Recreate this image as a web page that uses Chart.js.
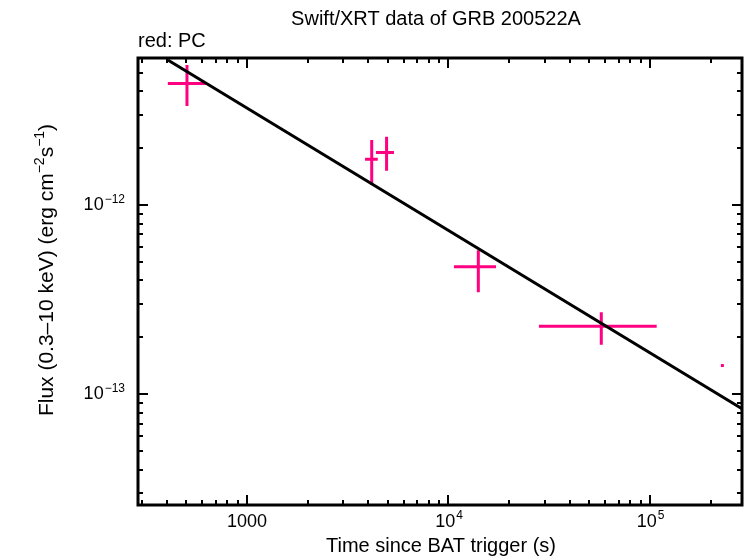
<!DOCTYPE html>
<html>
<head>
<meta charset="utf-8">
<script src="https://cdn.jsdelivr.net/npm/chart.js@4"></script>
<style>
html, body { margin: 0; padding: 0; background: #fff; }
</style>
</head>
<body>
<canvas id="myChart" width="746" height="558"></canvas>
<script>
// PC mode points: time since trigger (s) and flux (erg cm-2 s-1)
const times = [504, 4160, 4930, 14060, 57300, 228500]
const timeLow = [405, 3855, 4365, 10640, 28100, 228500]
const timeHigh = [632, 4458, 5364, 17220, 107900, 228500]
const flux = [4.40e-12, 1.75e-12, 1.90e-12, 4.72e-13, 2.29e-13, 1.42e-13]
const fluxLow = [3.34e-12, 1.28e-12, 1.52e-12, 3.47e-13, 1.83e-13, 1.42e-13]
const fluxHigh = [5.51e-12, 2.21e-12, 2.30e-12, 5.78e-13, 2.72e-13, 1.42e-13]

// power law fit, drawn between its two ends
const fitTimes = [405, 286000]
const fitFlux = [5.85e-12, 8.4e-14]

// labelled ticks (powers of ten) - 1000 is written out in full
const xTickExp = [3, 4, 5]
const yTickExp = [-13, -12]

const pink = "#ff0080"
const font = "'Liberation Sans', Arial, sans-serif"

const points = times.map((t, i) => ({ x: t, y: flux[i] }))
const fitPoints = fitTimes.map((t, i) => ({ x: t, y: fitFlux[i] }))

// draws "10" with a raised exponent, anchored by align
function drawPow(ctx, exp, x, y, align) {
	const base = "10"
	const sup = String(exp).replace("-", "\u2212")
	ctx.font = "18px " + font
	const bw = ctx.measureText(base).width
	ctx.font = "12px " + font
	const sw = ctx.measureText(sup).width
	let left = x
	if (align === "center") left = x - (bw + sw) / 2
	if (align === "right") left = x - (bw + sw)
	ctx.textAlign = "left"
	ctx.textBaseline = "middle"
	ctx.font = "18px " + font
	ctx.fillText(base, left, y)
	ctx.font = "12px " + font
	ctx.fillText(sup, left + bw + 1, y - 6)
}

function minorValues(min, max) {
	const out = []
	for (let e = Math.floor(Math.log10(min)); e <= Math.ceil(Math.log10(max)); e++) {
		for (let m = 1; m < 10; m++) {
			const v = m * Math.pow(10, e)
			if (v >= min && v <= max) out.push({ v: v, major: m === 1 })
		}
	}
	return out
}

const errorBars = {
	id: "errorBars",
	beforeDatasetsDraw: chart => {
		const ctx = chart.ctx
		const xs = chart.scales.x
		const ys = chart.scales.y
		ctx.save()
		ctx.strokeStyle = pink
		ctx.fillStyle = pink
		ctx.lineWidth = 3
		times.forEach((t, i) => {
			const px = xs.getPixelForValue(t)
			const py = ys.getPixelForValue(flux[i])
			if (timeLow[i] === timeHigh[i] && fluxLow[i] === fluxHigh[i]) {
				ctx.fillRect(px - 1.5, py - 1.5, 3, 3)
				return
			}
			ctx.beginPath()
			ctx.moveTo(xs.getPixelForValue(timeLow[i]), py)
			ctx.lineTo(xs.getPixelForValue(timeHigh[i]), py)
			ctx.moveTo(px, ys.getPixelForValue(fluxLow[i]))
			ctx.lineTo(px, ys.getPixelForValue(fluxHigh[i]))
			ctx.stroke()
		})
		ctx.restore()
	},
}

const frame = {
	id: "frame",
	afterDraw: chart => {
		const ctx = chart.ctx
		const a = chart.chartArea
		const xs = chart.scales.x
		const ys = chart.scales.y
		ctx.save()
		ctx.strokeStyle = "#000"
		ctx.fillStyle = "#000"
		ctx.lineWidth = 3
		ctx.strokeRect(a.left, a.top, a.right - a.left, a.bottom - a.top)

		ctx.lineWidth = 2
		ctx.beginPath()
		minorValues(xs.min, xs.max).forEach(t => {
			const px = Math.round(xs.getPixelForValue(t.v))
			const len = t.major ? 10 : 5
			ctx.moveTo(px, a.bottom)
			ctx.lineTo(px, a.bottom - len)
			ctx.moveTo(px, a.top)
			ctx.lineTo(px, a.top + len)
		})
		minorValues(ys.min, ys.max).forEach(t => {
			const py = Math.round(ys.getPixelForValue(t.v))
			const len = t.major ? 10 : 5
			ctx.moveTo(a.left, py)
			ctx.lineTo(a.left + len, py)
			ctx.moveTo(a.right, py)
			ctx.lineTo(a.right - len, py)
		})
		ctx.stroke()

		// tick labels
		xTickExp.forEach(e => {
			const px = xs.getPixelForValue(Math.pow(10, e))
			if (e === 3) {
				ctx.font = "18px " + font
				ctx.textAlign = "center"
				ctx.textBaseline = "middle"
				ctx.fillText("1000", px, a.bottom + 17)
			} else {
				drawPow(ctx, e, px, a.bottom + 17, "center")
			}
		})
		yTickExp.forEach(e => {
			const py = ys.getPixelForValue(Math.pow(10, e))
			drawPow(ctx, e, a.left - 14, py, "right")
		})

		// titles
		ctx.textBaseline = "middle"
		ctx.textAlign = "center"
		ctx.font = "20px " + font
		ctx.fillText("Swift/XRT data of GRB 200522A", 436, 19)
		ctx.fillText("Time since BAT trigger (s)", 441, 546)
		ctx.textAlign = "left"
		ctx.fillText("red: PC", 138, 41)

		ctx.translate(47, 270)
		ctx.rotate(-Math.PI / 2)
		ctx.textAlign = "left"
		const parts = [
			["Flux (0.3\u201310 keV) (erg cm", 21, 0],
			["\u22122", 14, -7],
			["s", 21, 0],
			["\u22121", 14, -7],
			[")", 21, 0],
		]
		let total = 0
		parts.forEach(p => {
			ctx.font = p[1] + "px " + font
			total += ctx.measureText(p[0]).width
		})
		let cx = -total / 2
		parts.forEach(p => {
			ctx.font = p[1] + "px " + font
			ctx.fillText(p[0], cx, p[2])
			cx += ctx.measureText(p[0]).width
		})
		ctx.restore()
	},
}

const chart = document.querySelector("#myChart").getContext("2d")

const myChart = new Chart(chart, {
	type: "scatter",
	data: {
		datasets: [
			{
				data: points,
				pointRadius: 0,
				showLine: false,
			},
			{
				data: fitPoints,
				showLine: true,
				borderColor: "#000",
				borderWidth: 3,
				pointRadius: 0,
			},
		],
	},
	options: {
		responsive: false,
		animation: false,
		layout: { padding: { left: 138, top: 58, right: 4, bottom: 53 } },
		plugins: { legend: { display: false }, tooltip: { enabled: false } },
		scales: {
			x: { type: "logarithmic", min: 288, max: 286000, display: false },
			y: { type: "logarithmic", min: 2.6e-14, max: 6.0e-12, display: false },
		},
	},
	plugins: [errorBars, frame],
})
</script>
</body>
</html>
